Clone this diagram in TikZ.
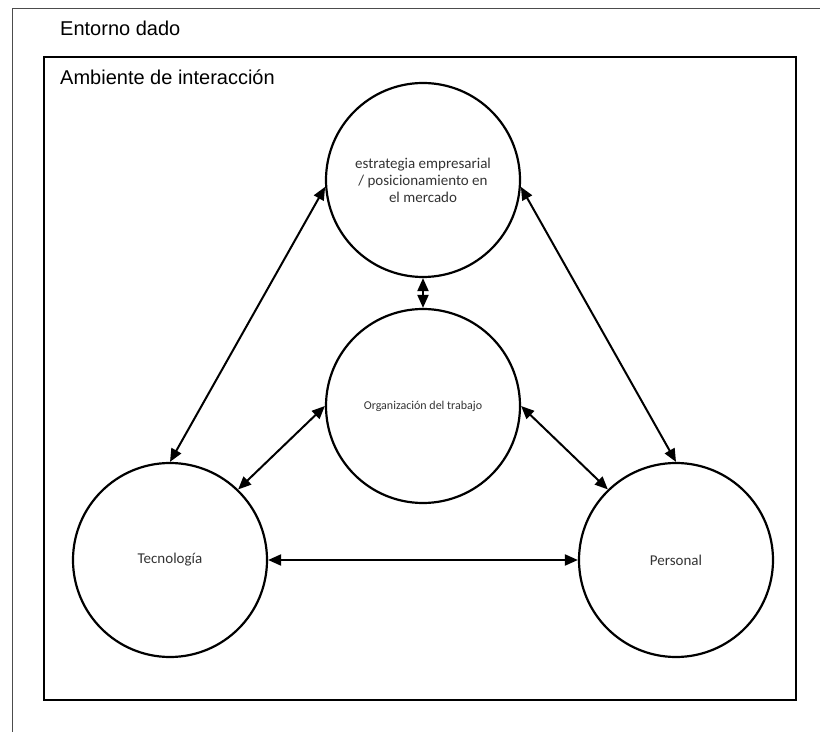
\documentclass[tikz,border=0pt]{standalone}
\usepackage{fontspec}
\setmainfont{Liberation Sans}
\newfontfamily\bodyfont{Carlito}
\usetikzlibrary{arrows.meta}
\begin{document}
\begin{tikzpicture}[x=1pt,y=1pt,
  bubble/.style={circle, draw=black, line width=2.2pt, minimum size=194pt,
    inner sep=0pt, text=black!80, align=center,
    font=\bodyfont\fontsize{15}{17}\selectfont},
  link/.style={line width=2pt, {Triangle[length=13pt,width=11pt]}-{Triangle[length=13pt,width=11pt]}},
  heading/.style={anchor=base west, inner sep=0pt, font=\fontsize{20}{24}\selectfont}]
  \useasboundingbox (0,0) rectangle (820,732);
  % outer surroundings
  \draw[line width=1pt, black!70] (820,723) -- (12,723) -- (12,0);
  \node[heading] (envlabel) at (60,696) {Entorno dado};
  % interaction area
  \draw[line width=2.2pt] (44,32) rectangle (796,675);
  \node[heading] (arealabel) at (60,647) {Ambiente de interacción};
  % the four areas
  \node[bubble] (strat) at (423,552) {estrategia empresarial\\/ posicionamiento en\\el mercado};
  \node[bubble, font=\bodyfont\fontsize{12}{14}\selectfont] (org) at (423,326) {Organización del trabajo};
  \node[bubble] (tec) at (170,172) {Tecnología};
  \node[bubble] (pers) at (676,172) {Personal};
  % relations
  \draw[link] (strat.184) -- (tec.90);
  \draw[link] (strat.356) -- (pers.90);
  \draw[link] (strat.270) -- (org.90);
  \draw[link] (org.180) -- (tec.46);
  \draw[link] (org.0) -- (pers.134);
  \draw[link] (tec.0) -- (pers.180);
\end{tikzpicture}
\end{document}
